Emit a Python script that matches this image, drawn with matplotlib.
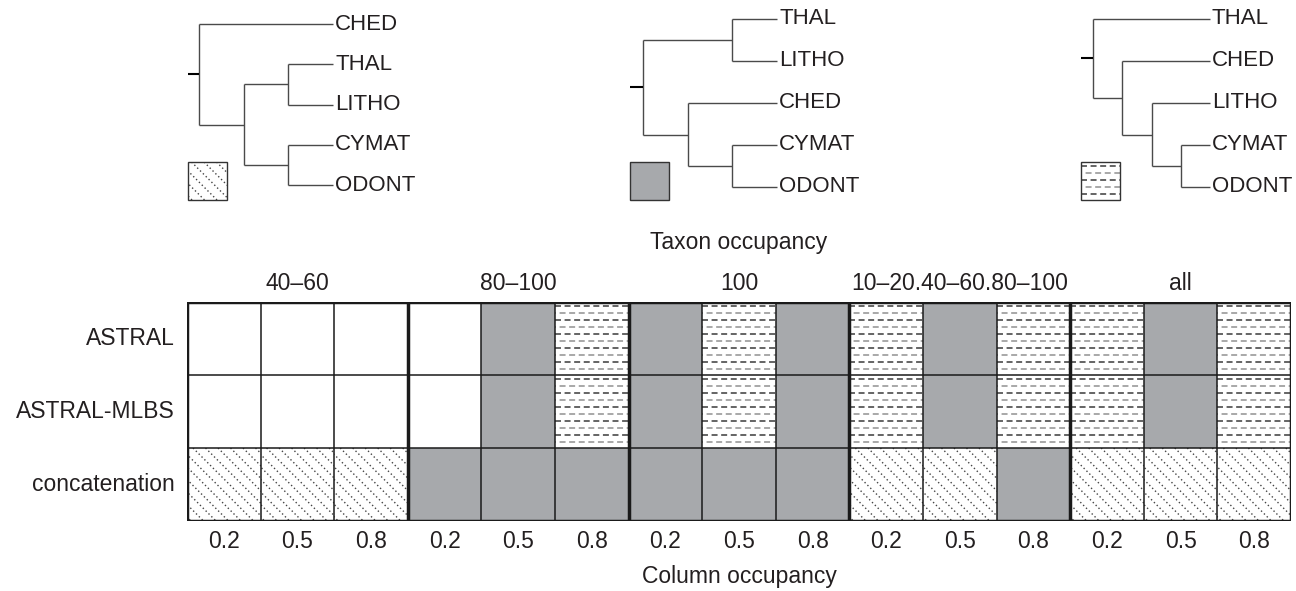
import matplotlib
matplotlib.use("Agg")
import matplotlib.pyplot as plt
from matplotlib.patches import Rectangle
from matplotlib.collections import LineCollection

plt.rcParams['font.family'] = ['Liberation Sans', 'DejaVu Sans']
plt.rcParams['lines.scale_dashes'] = False

# --- data ---
methods = ["ASTRAL", "ASTRAL-MLBS", "concatenation"]
taxon_groups = ["40–60", "80–100", "100", "10–20.40–60.80–100", "all"]
col_occ = ["0.2", "0.5", "0.8"]
# 0 = none, 1 = gray (tree b), 2 = dashed (tree c), 3 = dotted diagonal (tree a)
astral      = [0, 0, 0, 0, 1, 2, 1, 2, 1, 2, 1, 2, 2, 1, 2]
astral_mlbs = [0, 0, 0, 0, 1, 2, 1, 2, 1, 2, 1, 2, 2, 1, 2]
concat      = [3, 3, 3, 1, 1, 1, 1, 1, 1, 3, 3, 1, 3, 3, 3]
grid = [astral, astral_mlbs, concat]

tree_a = ("CHED", (("THAL", "LITHO"), ("CYMAT", "ODONT")))
tree_b = (("THAL", "LITHO"), ("CHED", ("CYMAT", "ODONT")))
tree_c = ("THAL", ("CHED", ("LITHO", ("CYMAT", "ODONT"))))
trees = [tree_a, tree_b, tree_c]
tree_codes = [3, 1, 2]

# layout of each tree in pixels: stub x, root x, leaf x, first leaf y, leaf spacing
tree_layout = [(188, 199, 333, 24, 40.3),
               (630, 643, 777, 19, 42.0),
               (1081, 1093, 1210, 19, 42.0)]

GRAY = "#a7a9ac"
INK = "#231f20"
FS = 16.5
FS_LEAF = 16

W, H = 1296, 591
fig = plt.figure(figsize=(W / 100, H / 100), dpi=100)

# full-figure axes in pixel units for the trees
tax = fig.add_axes([0, 0, 1, 1])
tax.set_xlim(0, W)
tax.set_ylim(H, 0)
tax.axis('off')

# grid axes
gl, gr, gt, gb = 187, 1291, 302, 521
gax = fig.add_axes([gl / W, 1 - gb / H, (gr - gl) / W, (gb - gt) / H])
ncol, nrow = len(astral), len(grid)
gax.set_xlim(0, ncol)
gax.set_ylim(nrow, 0)
gax.axis('off')
ux = ncol / (gr - gl)
uy = nrow / (gb - gt)


def fill(ax, x0, y0, w, h, code, ux, uy):
    face = GRAY if code == 1 else "white"
    rect = Rectangle((x0, y0), w, h, facecolor=face, edgecolor="none", zorder=1)
    ax.add_patch(rect)
    if code == 3:
        step = 12.5 * ux
        segs = []
        L = h / uy * ux
        s = -L + 4 * ux
        while s < w:
            segs.append([(x0 + s, y0), (x0 + s + L, y0 + h)])
            s += step
        lc = LineCollection(segs, colors="#444444", linewidths=1.0,
                            linestyles=[(0, (1.0, 1.9))], zorder=2)
        ax.add_collection(lc)
        lc.set_clip_path(rect)
    elif code == 2:
        step = 7 * uy
        j = 0
        y = y0 + step * 0.6
        while y < y0 + h:
            col = "#4a4a4a" if j % 2 == 0 else "#9a9a9a"
            off = 0 if j % 2 == 0 else 3.6
            lc = LineCollection([[(x0, y), (x0 + w, y)]], colors=col, linewidths=1.2,
                                linestyles=[(off, (4.3, 2.6))], zorder=2)
            ax.add_collection(lc)
            lc.set_clip_path(rect)
            y += step
            j += 1


for r, row in enumerate(grid):
    for c, code in enumerate(row):
        fill(gax, c, r, 1, 1, code, ux, uy)

# grid lines
for c in range(ncol + 1):
    thick = c % 3 == 0
    gax.plot([c, c], [0, nrow], color="#1a1a1a",
             lw=2.5 if thick else 1.1, zorder=3, solid_capstyle='projecting')
for r in range(nrow + 1):
    thick = r in (0, nrow)
    gax.plot([0, ncol], [r, r], color="#1a1a1a",
             lw=2.5 if thick else 1.1, zorder=3, solid_capstyle='projecting')

for r, m in enumerate(methods):
    gax.text(-12 * ux, r + 0.5, m, ha='right', va='center', fontsize=FS, color=INK)
for g, name in enumerate(taxon_groups):
    gax.text(g * 3 + 1.5, -19 * uy, name, ha='center', va='center', fontsize=FS, color=INK)
    for k, lab in enumerate(col_occ):
        gax.text(g * 3 + k + 0.5, nrow + 21 * uy, lab, ha='center', va='center',
                 fontsize=FS, color=INK)
gax.text(ncol / 2, -59 * uy, "Taxon occupancy", ha='center', va='center', fontsize=FS, color=INK)
gax.text(ncol / 2, nrow + 55 * uy, "Column occupancy", ha='center', va='center',
         fontsize=FS, color=INK)


# --- trees ---
def height(node):
    if isinstance(node, str):
        return 0
    return 1 + max(height(ch) for ch in node)


def draw_tree(ax, tree, stub_x, root_x, leaf_x, top, gap):
    step = (leaf_x - root_x) / height(tree)
    counter = [0]

    def walk(node):
        if isinstance(node, str):
            y = top + counter[0] * gap
            counter[0] += 1
            return y
        ys = [walk(ch) for ch in node]
        x = leaf_x - height(node) * step
        for ch, yc in zip(node, ys):
            xc = leaf_x - height(ch) * step
            ax.plot([x, xc], [yc, yc], color="#4a4a4a", lw=1.0, solid_capstyle='butt')
            if isinstance(ch, str):
                ax.text(xc + 2, yc, ch, ha='left', va='center', fontsize=FS_LEAF, color=INK)
        ax.plot([x, x], [ys[0], ys[-1]], color="#4a4a4a", lw=1.0, solid_capstyle='butt')
        return (ys[0] + ys[-1]) / 2

    ry = walk(tree)
    ax.plot([stub_x, root_x], [ry, ry], color="black", lw=1.5, solid_capstyle='butt')


for tree, code, (sx, rx, lx, top, gap) in zip(trees, tree_codes, tree_layout):
    draw_tree(tax, tree, sx, rx, lx, top, gap)
    fill(tax, sx, 162, 39, 38, code, 1, 1)
    tax.add_patch(Rectangle((sx, 162), 39, 38, facecolor="none", edgecolor="#333333",
                            lw=1.0, zorder=3))

fig.savefig("out.png", dpi=100)
